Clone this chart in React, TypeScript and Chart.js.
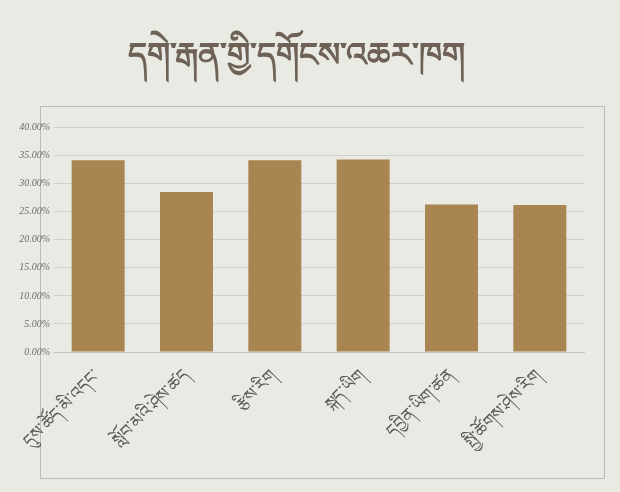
import React, { useEffect, useRef } from "react";
import { Chart, registerables } from "chart.js";

Chart.register(...registerables);

const titleText = "དགེ་རྒན་གྱི་དགོངས་འཆར་ཁག";
const categories = [
  "དུས་ཚོད་མི་འདང་",
  "སློབ་མའི་ཤེས་ཚད",
  "རྩིས་རིག",
  "སྐད་ཡིག",
  "དབྱིན་ཡིག་ཚན",
  "སྤྱི་ཚོགས་ཤེས་རིག",
];
const values = [34.2, 28.5, 34.2, 34.3, 26.3, 26.2];
const yMin = 0;
const yMax = 40;
const yStep = 5;

const framePlugin = {
  id: "frame",
  beforeDraw(chart: any) {
    const { ctx, width, height } = chart;
    ctx.save();
    ctx.fillStyle = "#e9eae4";
    ctx.fillRect(0, 0, width, height);
    ctx.strokeStyle = "#b9bbb6";
    ctx.lineWidth = 1;
    ctx.strokeRect(40.5, 106.5, width - 56, height - 120);
    ctx.restore();
  },
};

export default function App() {
  const ref = useRef<HTMLCanvasElement>(null);
  useEffect(() => {
    document.body.style.margin = "0";
    const chart = new Chart(ref.current!, {
      type: "bar",
      data: {
        labels: categories,
        datasets: [
          {
            data: values,
            backgroundColor: "#a98552",
            borderWidth: 0,
            categoryPercentage: 1,
            barPercentage: 0.6,
          },
        ],
      },
      options: {
        animation: false,
        responsive: false,
        layout: { padding: { left: 8, right: 36, top: 0, bottom: 0 } },
        plugins: {
          legend: { display: false },
          tooltip: { enabled: false },
          title: {
            display: true,
            text: titleText,
            color: "#6e6256",
            font: { size: 33, family: "DejaVu Sans" },
            padding: { top: 38, bottom: 50 },
          },
        },
        scales: {
          x: {
            grid: { display: false },
            border: { color: "#c4c5c0" },
            afterFit: (s: any) => {
              s.height = 140;
            },
            ticks: {
              maxRotation: 45,
              minRotation: 45,
              color: "#5d5853",
              padding: 6,
              font: { size: 17, family: "DejaVu Sans" },
            },
          },
          y: {
            min: yMin,
            max: yMax,
            afterFit: (s: any) => {
              s.width = 46;
            },
            ticks: {
              stepSize: yStep,
              color: "#6c6a68",
              padding: 4,
              font: { size: 10, style: "italic", family: "Liberation Serif" },
              callback: (v: any) => Number(v).toFixed(2) + "%",
            },
            grid: { color: "#cfd0cb", drawTicks: false },
            border: { display: false },
          },
        },
      },
      plugins: [framePlugin],
    });
    return () => chart.destroy();
  }, []);
  return (
    <div style={{ width: 620, height: 492 }}>
      <canvas ref={ref} width={620} height={492} />
    </div>
  );
}
